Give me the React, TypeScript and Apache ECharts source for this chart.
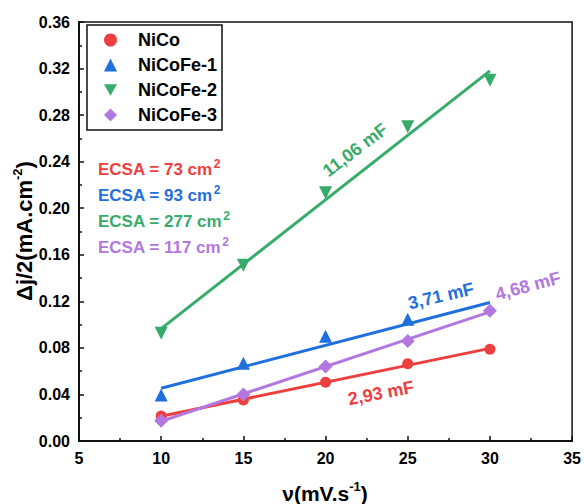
import React, { useEffect, useRef } from "react";
import * as echarts from "echarts";

const scanRates = [10, 15, 20, 25, 30];
const niCo = [0.0215, 0.0352, 0.0504, 0.0664, 0.0788];
const niCoFe1 = [0.0395, 0.0667, 0.09, 0.1045, null];
const niCoFe2 = [0.0925, 0.151, 0.2133, 0.27, 0.31];
const niCoFe3 = [0.0175, 0.04, 0.064, 0.086, 0.112];

const fitX = [10, 30];
const niCoFit = [0.0213, 0.0796];
const niCoFe1Fit = [0.0453, 0.119];
const niCoFe2Fit = [0.0965, 0.318];
const niCoFe3Fit = [0.017, 0.111];

const seriesNames = ["NiCo", "NiCoFe-1", "NiCoFe-2", "NiCoFe-3"];
const ecsaValues = ["73", "93", "277", "117"];
const capacitances = ["2,93 mF", "3,71 mF", "11,06 mF", "4,68 mF"];

const colors = ["#EE3F3F", "#1F6FDE", "#37AB69", "#B277E0"];
const symbols = [
  "circle",
  "triangle",
  "path://M0,0 L10,0 L5,9 Z",
  "diamond",
];
const symbolSizes = [11, 13, 13, 14];

const FONT = 'Arial, "Liberation Sans", sans-serif';

export default function App() {
  const ref = useRef<HTMLDivElement>(null);

  useEffect(() => {
    if (!ref.current) return;
    const chart = echarts.init(ref.current, null, { renderer: "svg" });

    const pts = [niCo, niCoFe1, niCoFe2, niCoFe3];
    const fits = [niCoFit, niCoFe1Fit, niCoFe2Fit, niCoFe3Fit];

    const series: any[] = [];
    fits.forEach((f, i) => {
      series.push({
        name: seriesNames[i] + " fit",
        type: "line",
        data: fitX.map((x, j) => [x, f[j]]),
        showSymbol: false,
        symbol: "none",
        lineStyle: { color: colors[i], width: 3 },
        z: 2,
        silent: true,
      });
    });
    pts.forEach((p, i) => {
      const data: any[] = [];
      scanRates.forEach((x, j) => {
        if (p[j] !== null) data.push([x, p[j]]);
      });
      series.push({
        name: seriesNames[i],
        type: "scatter",
        data,
        symbol: symbols[i],
        symbolSize: symbolSizes[i],
        itemStyle: { color: colors[i], opacity: 1 },
        z: 3 + i,
      });
    });

    const ecsaTexts = ecsaValues.map((v, i) => ({
      type: "text",
      left: 98,
      top: 158 + i * 26,
      style: {
        text: `{a|ECSA = ${v} cm}{s|2}`,
        rich: {
          a: { fontSize: 17, fontWeight: "bold", fontFamily: FONT, fill: colors[i], verticalAlign: "bottom", lineHeight: 20 },
          s: { fontSize: 12, fontWeight: "bold", fontFamily: FONT, fill: colors[i], verticalAlign: "top", lineHeight: 20, padding: [0, 0, 8, 1] },
        },
      },
    }));

    const slopePos = [
      { x: 381, y: 393, r: 0.19 },
      { x: 441, y: 296, r: 0.23 },
      { x: 355, y: 150, r: 0.65 },
      { x: 528, y: 286, r: 0.26 },
    ];
    const slopeTexts = capacitances.map((c, i) => ({
      type: "text",
      x: slopePos[i].x,
      y: slopePos[i].y,
      rotation: slopePos[i].r,
      style: {
        text: c,
        fontSize: 18,
        fontWeight: "bold",
        fontFamily: FONT,
        fill: colors[i],
        align: "center",
        verticalAlign: "middle",
      },
    }));

    const titleRich = (fs: number) => ({
      a: { fontSize: fs, fontWeight: "bold", fontFamily: FONT, fill: "#000", lineHeight: 26 },
      s: { fontSize: 13, fontWeight: "bold", fontFamily: FONT, fill: "#000", lineHeight: 26, padding: [0, 0, 13, 0] },
    });

    chart.setOption({
      animation: false,
      backgroundColor: "#fff",
      grid: {
        left: 79,
        right: 11,
        top: 22,
        bottom: 63,
        show: true,
        borderColor: "#111",
        borderWidth: 1.5,
      },
      legend: {
        data: seriesNames,
        orient: "vertical",
        left: 87,
        top: 25,
        padding: [6, 5, 6, 17],
        itemWidth: 13,
        itemHeight: 13,
        itemGap: 7,
        borderColor: "#111",
        borderWidth: 1.5,
        backgroundColor: "#fff",
        formatter: (name: string) => `{sp| }{t|${name}}`,
        textStyle: {
          fontSize: 18,
          fontWeight: "bold",
          fontFamily: FONT,
          color: "#000",
          lineHeight: 18,
          rich: {
            sp: { width: 16, fontSize: 18, lineHeight: 18 },
            t: { fontSize: 18, fontWeight: "bold", fontFamily: FONT, color: "#000", lineHeight: 18 },
          },
        },
      },
      xAxis: {
        type: "value",
        min: 5,
        max: 35,
        interval: 5,
        axisLine: { show: true, lineStyle: { color: "#111", width: 2 } },
        axisTick: { show: true, inside: true, length: 5, lineStyle: { color: "#111", width: 1.5 } },
        minorTick: { show: true, splitNumber: 2, length: 3, lineStyle: { color: "#111", width: 1.5 } },
        splitLine: { show: false },
        axisLabel: { fontSize: 16, fontWeight: "bold", fontFamily: FONT, color: "#000", margin: 9 },
      },
      yAxis: {
        type: "value",
        min: 0,
        max: 0.36,
        interval: 0.04,
        axisLine: { show: true, lineStyle: { color: "#111", width: 2 } },
        axisTick: { show: true, inside: true, length: 5, lineStyle: { color: "#111", width: 1.5 } },
        minorTick: { show: true, splitNumber: 2, length: 3, lineStyle: { color: "#111", width: 1.5 } },
        splitLine: { show: false },
        axisLabel: {
          fontSize: 16,
          fontWeight: "bold",
          fontFamily: FONT,
          color: "#000",
          margin: 9,
          formatter: (v: number) => v.toFixed(2),
        },
      },
      series,
      graphic: [
        ...ecsaTexts,
        ...slopeTexts,
        {
          type: "text",
          x: 24,
          y: 231,
          rotation: Math.PI / 2,
          style: {
            text: "{a|Δj/2(mA.cm}{s|-2}{a|)}",
            rich: titleRich(22),
            align: "center",
            verticalAlign: "middle",
          },
        },
        {
          type: "text",
          x: 325,
          y: 493,
          style: {
            text: "{a|ν(mV.s}{s|-1}{a|)}",
            rich: titleRich(21),
            align: "center",
            verticalAlign: "middle",
          },
        },
      ],
    });

    return () => chart.dispose();
  }, []);

  return (
    <div
      ref={ref}
      style={{ position: "fixed", left: 0, top: 0, width: 584, height: 504 }}
    />
  );
}
